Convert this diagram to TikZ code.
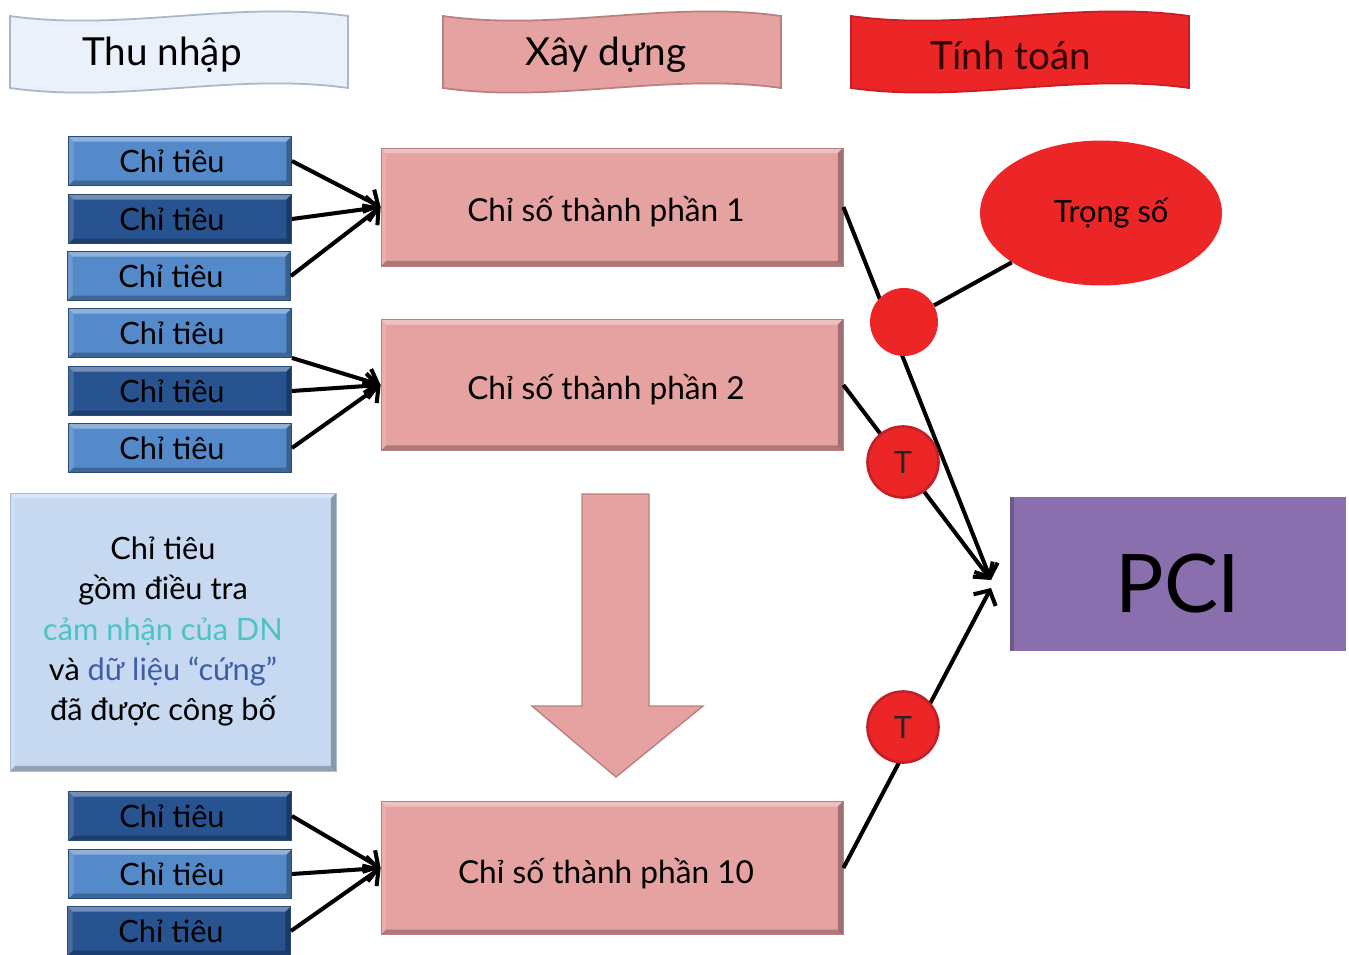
\documentclass[tikz,border=0pt]{standalone}
\usepackage{fontspec}
\setmainfont{Lato}
\usetikzlibrary{arrows.meta,shapes.geometric,calc}

\definecolor{thufill}{HTML}{EAF1FA}
\definecolor{thuedge}{HTML}{A9B8C8}
\definecolor{pinkfill}{HTML}{E6A1A1}
\definecolor{pinkedge}{HTML}{B88080}
\definecolor{redfill}{HTML}{EC2527}
\definecolor{rededge}{HTML}{C41E26}
\definecolor{cilight}{HTML}{548AC9}
\definecolor{cidark}{HTML}{285391}
\definecolor{ciedge}{HTML}{2A4A78}
\definecolor{notefill}{HTML}{C6D9F1}
\definecolor{noteedge}{HTML}{A9BCD2}
\definecolor{cyantext}{HTML}{4BC3C4}
\definecolor{bluetext}{HTML}{3D5CAB}
\definecolor{pcifill}{HTML}{8A6FAE}

\tikzset{
  % raised look: light upper rim, dark lower and right rims
  bevel/.style={path picture={
    \fill[white, opacity=0.35] (path picture bounding box.north west)
      -- (path picture bounding box.north east) -- ++(-5,5)
      -- ($(path picture bounding box.north west)+(5,5)$) -- cycle;
    \fill[white, opacity=0.15] (path picture bounding box.north west)
      -- (path picture bounding box.south west) -- ++(5,-5)
      -- ($(path picture bounding box.north west)+(5,5)$) -- cycle;
    \fill[black, opacity=0.25] (path picture bounding box.south west)
      -- (path picture bounding box.south east) -- ++(-5,-5)
      -- ($(path picture bounding box.south west)+(5,-5)$) -- cycle;
    \fill[black, opacity=0.3] (path picture bounding box.north east)
      -- (path picture bounding box.south east) -- ++(-5,-5)
      -- ($(path picture bounding box.north east)+(-5,5)$) -- cycle;
  }}
}

\begin{document}
\begin{tikzpicture}[
  % every pixel of the 1349x954 sheet is one unit, y runs downward
  x=0.02cm,
  y=-0.02cm,
  font=\fontsize{17.5}{20}\selectfont,
  banner/.style={draw, line width=1pt},
  bannertext/.style={font=\fontsize{22}{26}\selectfont},
  citieu/.style={bevel, draw=ciedge, line width=0.5pt, minimum width=4.46cm,
    minimum height=0.98cm, inner sep=0pt,
    execute at end node={\kern0.32cm}},
  cilt/.style={citieu, fill=cilight},
  cidk/.style={citieu, fill=cidark},
  thanhphan/.style={bevel, draw=pinkedge, fill=pinkfill, line width=0.5pt,
    minimum width=9.24cm, font=\fontsize{18}{20}\selectfont,
    execute at end node={\kern0.24cm}},
  dot/.style={circle, fill=redfill, inner sep=0pt},
  link/.style={line width=2.3pt, -{Straight Barb[length=2.2mm,width=5mm]}},
  plain/.style={line width=2.3pt}
]
\useasboundingbox (0,0) rectangle (1349,954);

% 1) The three wavy banners along the top
\draw[banner, draw=thuedge, fill=thufill]
  (10,16) .. controls (123,32) and (235,0) .. (348,16) -- (348,88)
  .. controls (235,72) and (123,104) .. (10,88) -- cycle;
\node[bannertext] (thu) at (162,55) {Thu nhập};

\draw[banner, draw=pinkedge, fill=pinkfill]
  (443,16) .. controls (556,32) and (668,0) .. (781,16) -- (781,88)
  .. controls (668,72) and (556,104) .. (443,88) -- cycle;
\node[bannertext] (xay) at (606,55) {Xây dựng};

\draw[banner, draw=rededge, fill=redfill]
  (851,16) .. controls (964,32) and (1076,0) .. (1189,16) -- (1189,88)
  .. controls (1076,72) and (964,104) .. (851,88) -- cycle;
\node[bannertext, text=black!80!red] (tinh) at (1011,55) {Tính toán};

% 2) Left column: the "Chi tieu" boxes
\node[cilt] (ci1) at (180,161) {Chỉ tiêu};
\node[cidk] (ci2) at (180,219) {Chỉ tiêu};
\node[cilt] (ci3) at (179,276) {Chỉ tiêu};
\node[cilt] (ci4) at (180,333) {Chỉ tiêu};
\node[cidk] (ci5) at (180,391) {Chỉ tiêu};
\node[cilt] (ci6) at (180,448) {Chỉ tiêu};
\node[cidk] (ci7) at (180,816) {Chỉ tiêu};
\node[cilt] (ci8) at (180,874) {Chỉ tiêu};
\node[cidk] (ci9) at (179,931) {Chỉ tiêu};

% note box
\node[bevel, draw=noteedge, fill=notefill, line width=0.5pt,
  minimum width=6.52cm, minimum height=5.56cm, inner sep=0pt,
  font=\fontsize{17.5}{22.8}\selectfont] (note) at (173,632)
  {\begin{tabular}{@{}c@{}}Chỉ tiêu\\gồm điều tra\\
   \textcolor{cyantext}{cảm nhận của DN}\\
   và \textcolor{bluetext}{dữ liệu “cứng”}\\đã được công bố\end{tabular}%
   \kern0.4cm};

% 3) Middle column: component indices
\node[thanhphan, minimum height=2.36cm] (cs1) at (612,207)
  {\raisebox{-0.28cm}[0pt][0pt]{Chỉ số thành phần 1}};
\node[thanhphan, minimum height=2.62cm] (cs2) at (612,385)
  {\raisebox{-0.28cm}[0pt][0pt]{Chỉ số thành phần 2}};
\node[thanhphan, minimum height=2.66cm] (cs10) at (612,868)
  {\raisebox{-0.3cm}[0pt][0pt]{Chỉ số thành phần 10}};

% big down arrow standing for the rest of the indices
\draw[draw=pinkedge, fill=pinkfill, line width=0.8pt]
  (582,494) -- (649,494) -- (649,706) -- (703,706) -- (616,777)
  -- (532,706) -- (582,706) -- cycle;

\draw[link] (ci1.east) -- (cs1.west);
\draw[link] (ci2.east) -- (cs1.west);
\draw[link] (ci3.east) -- (cs1.west);
\draw[link] (ci4.south east) -- (cs2.west);
\draw[link] (ci5.east) -- (cs2.west);
\draw[link] (ci6.east) -- (cs2.west);
\draw[link] (ci7.east) -- (cs10.west);
\draw[link] (ci8.east) -- (cs10.west);
\draw[link] (ci9.east) -- (cs10.west);

% 4) Right side: weights and PCI
\node[fill=pcifill, minimum width=6.74cm, minimum height=3.1cm,
  font=\fontsize{46}{50}\selectfont,
  path picture={\fill[black, opacity=0.2]
    (path picture bounding box.north west) rectangle
    ($(path picture bounding box.south west)+(4,0)$);}]
  (pci) at (1178,574) {\raisebox{-0.76cm}[0pt][0pt]{PCI}};
\node[ellipse, fill=redfill, minimum width=4.84cm, minimum height=2.9cm]
  (ts) at (1101,213) {\hspace{0.4cm}Trọng số};
\coordinate (pcia) at (991,580);
\coordinate (pcib) at (991,588);

\draw[link] (cs1.east) -- (pcia);
\draw[link] (cs2.east) -- (pcia);
\draw[link] (cs10.east) -- (pcib);

\node[dot, minimum size=1.36cm] (w) at (904,322) {};
\node[dot, draw=rededge, line width=1.5pt, minimum size=1.42cm,
  text=black!85] (t1) at (903,462) {T};
\node[dot, draw=rededge, line width=1.5pt, minimum size=1.42cm,
  text=black!85] (t2) at (903,727) {T};
\draw[plain] (ts) -- (w);

\end{tikzpicture}
\end{document}
